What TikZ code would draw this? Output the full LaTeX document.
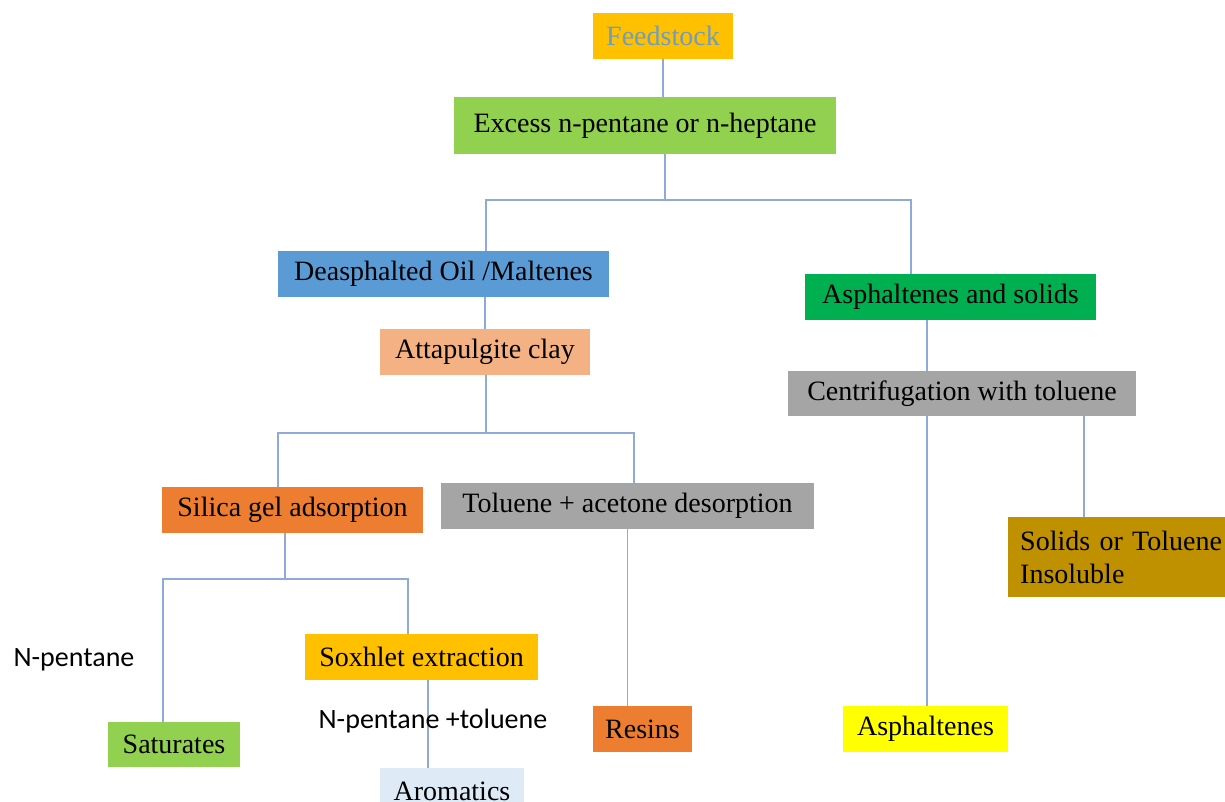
\documentclass[tikz,border=0pt]{standalone}
\usepackage{fontspec}
\setmainfont{Liberation Serif}
\newfontfamily\notefont{Carlito}
\usetikzlibrary{positioning}
\definecolor{Gold}{HTML}{FFC000}
\definecolor{Lime}{HTML}{92D050}
\definecolor{Sky}{HTML}{5B9BD5}
\definecolor{Peach}{HTML}{F4B183}
\definecolor{Leaf}{HTML}{00B050}
\definecolor{Stone}{HTML}{A5A5A5}
\definecolor{Rust}{HTML}{ED7D31}
\definecolor{Ice}{HTML}{DEEBF7}
\definecolor{Lemon}{HTML}{FFFF00}
\definecolor{Ochre}{HTML}{BF9000}
\definecolor{Wire}{HTML}{8EAADB}
\definecolor{Slate}{HTML}{6E9CC4}
\tikzset{
  box/.style={fill=#1, draw=none, inner sep=0pt, align=center, text=black,
    font=\fontsize{28}{33}\selectfont},
  box/.default=Stone,
  note/.style={inner sep=0pt, text=black, font=\notefont\fontsize{28}{33}\selectfont},
  link/.style={draw=Wire, line width=1.6pt}
}
\begin{document}
\begin{tikzpicture}[x=1pt, y=-1pt]
  \useasboundingbox[fill=white] (0,0) rectangle (1225,802);

  \node[box=Gold, minimum width=140, minimum height=46, text=Slate] (feed) at (663,36) {Feedstock};
  \node[box=Lime, minimum width=382, minimum height=57] (exc) at (645,125.5) {Excess n-pentane or n-heptane};

  \node[box=Sky, minimum width=331, minimum height=46] (dao) at (443.5,274) {Deasphalted Oil /Maltenes};
  \node[box=Peach, minimum width=210, minimum height=46] (att) at (485,352) {Attapulgite clay};
  \node[box=Leaf, minimum width=291, minimum height=46] (as) at (950.5,297) {Asphaltenes and solids};
  \node[box=Stone, minimum width=348, minimum height=45] (cen) at (962,393.5) {Centrifugation with toluene};

  \node[box=Rust, minimum width=261, minimum height=46] (sil) at (292.5,510) {Silica gel adsorption};
  \node[box=Stone, minimum width=373, minimum height=46] (tol) at (627.5,506) {Toluene + acetone desorption};
  \node[box=Ochre, minimum width=230, minimum height=80, anchor=north west, align=left,
        text width=206, inner xsep=12pt] (sol) at (1008,517) {Solids or Toluene\\Insoluble};

  \node[box=Gold, minimum width=233, minimum height=46] (sox) at (421.5,657) {Soxhlet extraction};
  \node[box=Lime, minimum width=132, minimum height=45] (sat) at (174,744.5) {Saturates};
  \node[box=Ice, minimum width=144, minimum height=46] (aro) at (452,791) {Aromatics};
  \node[box=Rust, minimum width=99, minimum height=46] (res) at (642.5,729) {Resins};
  \node[box=Lemon, minimum width=165, minimum height=46] (asp) at (925.5,729) {Asphaltenes};

  % junction points
  \coordinate (b1) at (665,200);
  \coordinate (b1l) at (486,200);
  \coordinate (b1r) at (911,200);
  \coordinate (b2) at (486,433);
  \coordinate (b2l) at (278,433);
  \coordinate (b2r) at (634,433);
  \coordinate (b3) at (285,579);
  \coordinate (b3l) at (163,579);
  \coordinate (b3r) at (408,579);
  \coordinate (v1) at (927,345);
  \coordinate (v2) at (1084,460);
  \coordinate (v3) at (428,720);

  \draw[link] (feed.south) -- (feed.south |- exc.north);
  \draw[link] (exc.south -| b1) -- (b1);
  \draw[link] (b1l |- dao.north) -- (b1l) -- (b1r) -- (b1r |- as.north);
  \draw[link] (att.north |- dao.south) -- (att.north);
  \draw[link] (att.south -| b2) -- (b2);
  \draw[link] (b2l |- sil.north) -- (b2l) -- (b2r) -- (b2r |- tol.north);
  \draw[link] (v1 |- as.south) -- (v1 |- cen.north);
  \draw[link] (v1 |- cen.south) -- (v1 |- asp.north);
  \draw[link] (v2 |- cen.south) -- (v2 |- sol.north);
  \draw[link] (sil.south -| b3) -- (b3);
  \draw[link] (b3l |- sat.north) -- (b3l) -- (b3r) -- (b3r |- sox.north);
  \draw[link] (tol.south) -- (tol.south |- res.north);
  \draw[link] (v3 |- sox.south) -- (v3 |- aro.north);

  \node[note] (npent) at (74,660) {N-pentane};
  \node[note] (nptol) at (433,721) {N-pentane +toluene};
\end{tikzpicture}
\end{document}
